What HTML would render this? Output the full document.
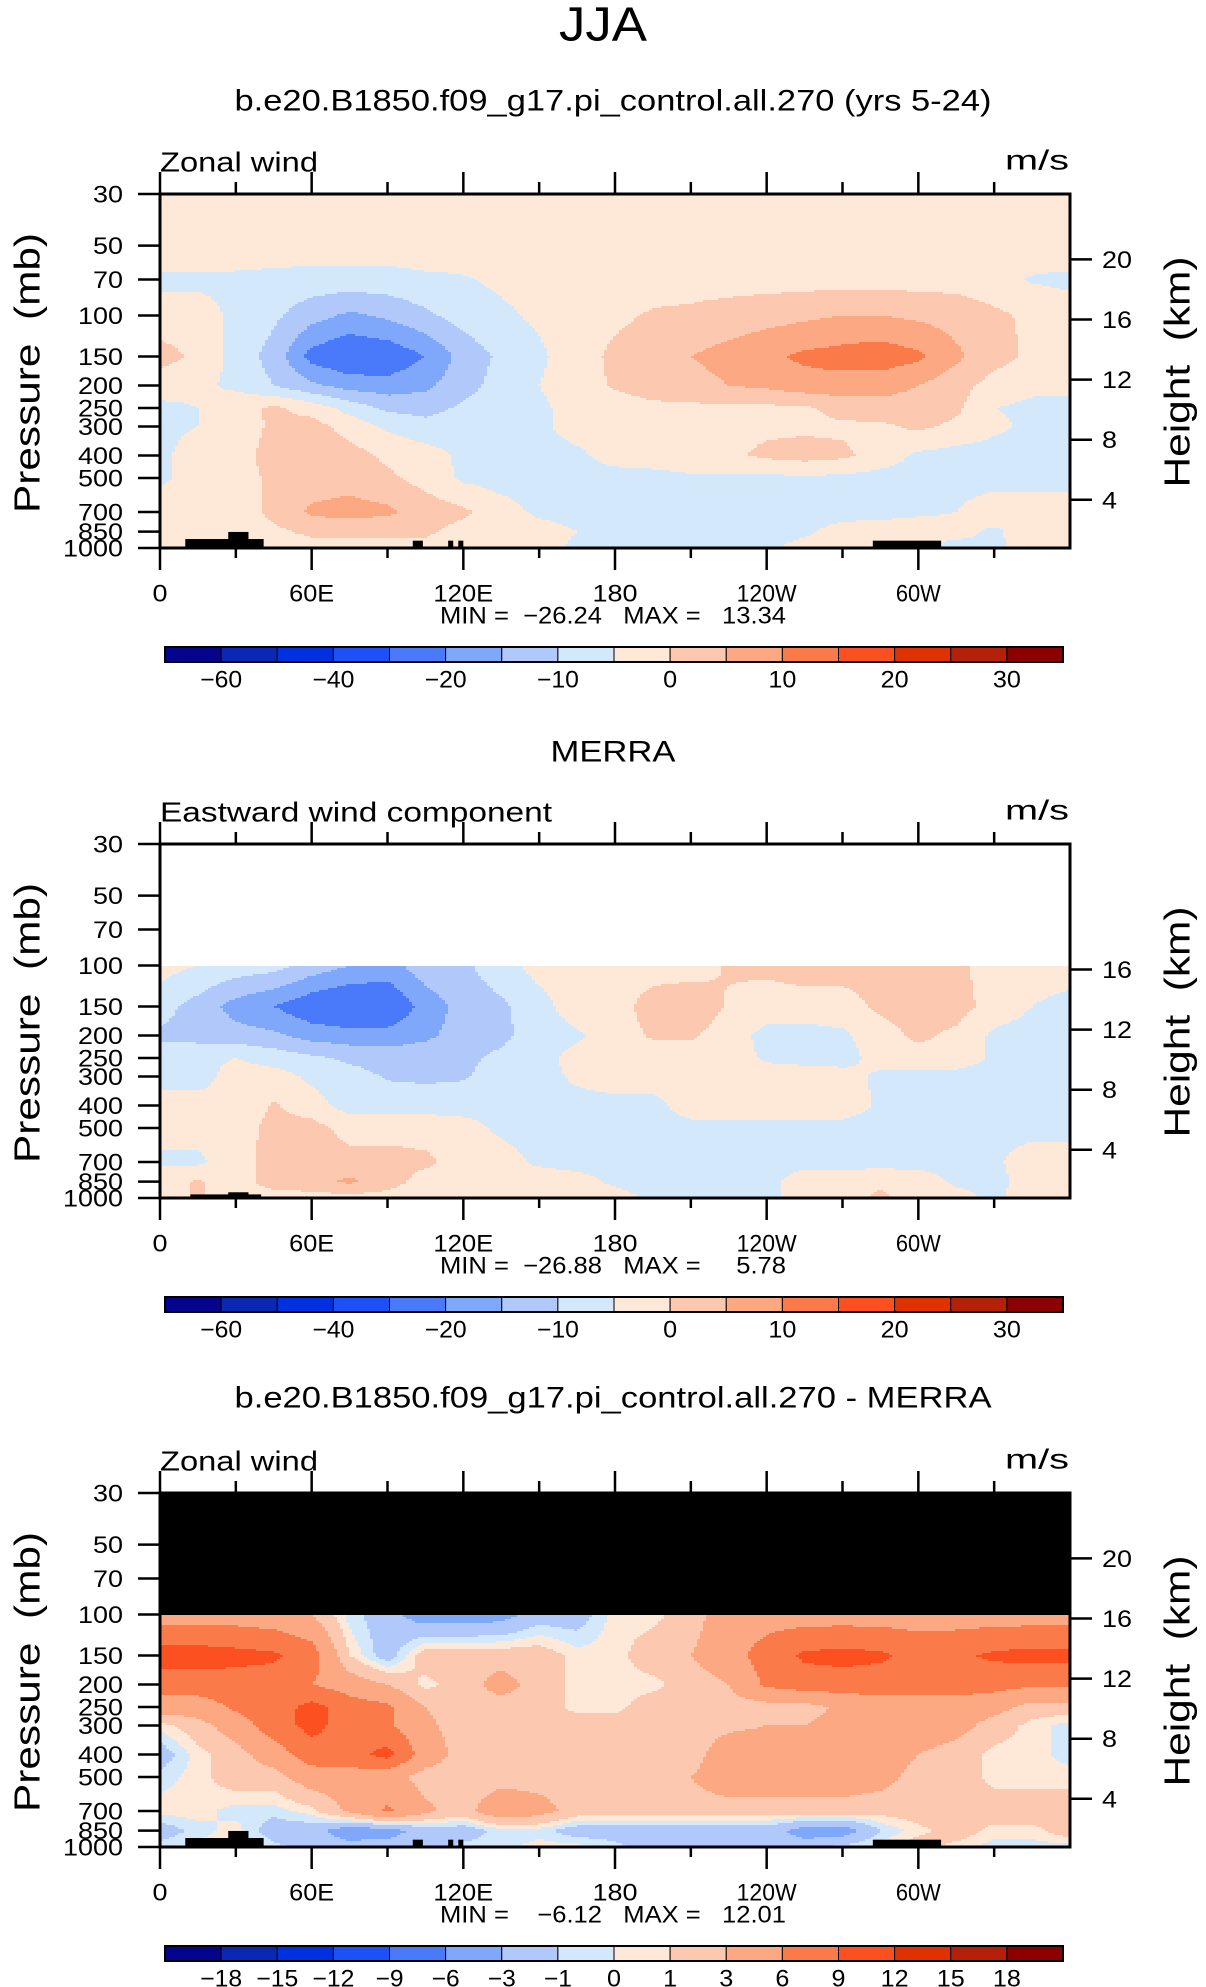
<!DOCTYPE html>
<html><head><meta charset="utf-8"><style>
html,body{margin:0;padding:0;background:#fff;}
svg{display:block;font-family:"Liberation Sans",sans-serif;}
text{white-space:pre;}
</style></head><body>
<svg id="fig" xmlns="http://www.w3.org/2000/svg" width="1206" height="1987" viewBox="0 0 1206 1987"></svg>
<script>
// ---- data ----
const lonCats = [0,15,30,45,60,75,90,105,120,135,150,165,180,195,210,225,240,255,270,285,300,315,330,345,360];
const pLevels = [30,50,70,100,150,200,250,300,400,500,700,850,1000];
const p1Rows = [
[-2,-2,-2,-2,-2,-2,-2,-2,-2,-2,-2,-2,-2,-2,-2,-2,-2,-2,-2,-2,-2,-2,-2,-2,-2],
[-2,-2,-2,-2,-2,-2,-2,-2,-2,-2,-2,-2,-2,-2,-2,-2,-2,-2,-2,-2,-2,-2,-2,-2,-2],
[-6,-6,-6,-6.5,-7,-7,-7,-6,-5.5,-4,-3,-2,-2,-2,-2,-2,-2,-2,-2,-2,-2,-2,-3,-5.5,-6],
[-3,-3,-6,-9,-13,-16,-14,-11,-8,-6,-4,-2,-1,0.5,1,2,3,4,5,5,4,3,1,-1,-3],
[2,-1,-7,-12,-22,-25,-24,-20,-13,-9,-6,-2,1,3,5,7,9,11,12,13,11,6,2,-1,-1],
[-3,-4,-6,-10,-14,-17,-18,-16,-12,-8,-5,-2,0.5,2,3,5,6,8,8,7,5,2,-2,-4,-4],
[-6,-5,-2,1,-2,-7,-11,-12,-9,-7,-6,-3,-2,-1,-1,-1,-1,-1,2,3,3,1,-5,-6,-6],
[-6,-5,-3,1,2,-2,-6,-8,-7,-6,-6,-3,-2,-1,-1,-1,-1,-1,-1,-1,1,-1,-4,-6,-6],
[-6,-3,-2,2,3,2,-1,-3,-6,-7,-7,-6,-3,-2,-1,-1,1,2,1,-2,-6,-7,-7,-7,-7],
[-6,-3,-2,1,2,3,1,-2,-6,-7,-7,-7,-7,-7,-6,-6,-6,-6,-6,-7,-7,-7,-7,-7,-7],
[-2,-2,-2,1,6,7,6,3,1,-3,-6,-7,-7,-7,-7,-7,-7,-7,-7,-7,-6,-5,-2,-2,-2],
[-2,-2,-2,-1,1,1,1,1,-2,-3,-3,-5,-7,-7,-7,-7,-7,-6,-3,-2,-2,-3,-6,-2,-2],
[-2,-2,-2,-2,-2,-2,-2,-2,-2,-3,-3,-6,-7,-7,-7,-7,-6,-3,-2,-2,-6,-7,-6,-3,-2]
];
const p2Rows = [
null,null,null,
[-3,-5,-7,-8,-12,-15,-17,-12,-11,-7,-3,-2,-2,-2,-2,0.5,1,2,2,2,2,1,-2,-2,-2],
[-8,-12,-17,-20,-24,-26,-25,-18,-13,-11,-7,-2,-2,2,3,-0.5,-2,-2,-2,1,2,2,-2,-5,-7],
[-11,-12,-13,-14,-17,-18,-18,-16,-13,-11,-8,-6,-2,0.5,0.5,-2,-7,-7,-6,-2,1,-1,-6,-7,-8],
[-7,-6,-5,-7,-9,-11,-12,-12,-11,-9,-7,-3,-2,-2,-2,-2,-6,-7,-7,-3,-2,-2,-6,-7,-7],
[-7,-7,-3,-3,-6,-8,-10.5,-11,-10.5,-8,-7,-4,-2,-2,-2,-2,-2,-2,-3,-6,-7,-7,-7,-7,-7],
[-3,-3,-4,0.5,-3,-7,-7,-7,-7,-7,-7,-7,-7,-7,-2,-2,-2,-2,-2,-6,-7,-7,-7,-7,-6],
[-3,-3,-3,2,2,-2,-2,-2,-3,-6,-7,-7,-7,-7,-7,-7,-7,-7,-7,-7,-7,-7,-7,-7,-7],
[-6,-6,-2,2,3,2,2,1,-2,-3,-6,-7,-7,-7,-7,-7,-7,-7,-7,-7,-7,-7,-6,-2,-2],
[-2,0.5,-2,2,3,6,2,-2,-2,-2,-2,-3,-6,-7,-7,-7,-7,-2,-2,-1,-2,-6,-7,-2,-2],
[-2,0.5,-2,-2,-2,-2,-2,-2,-2,-2,-2,-2,-3,-6,-7,-7,-7,-2,-2,1,-2,-3,-6,-2,-2]
];
const p3Rows = [
null,null,null,
[4.5,4.5,4.5,4,3,-0.5,-2,-4.5,-4.5,-4,-2,-2,0.5,0.5,2,4.5,4.5,4.5,4.5,4.5,4.5,4.5,4.5,4.5,4.5],
[10.5,10.5,10,9.5,7.5,1,-2,2,2,2,2,0.5,0.5,2,3,4.5,7.5,9.5,10,9.5,8,8.5,9.5,10,10],
[7.5,7.5,7.5,7.5,6,4.5,3,0.5,2,4,2,0.5,0.5,0.5,2,3,6.5,7.5,7.5,7.5,7.5,7.5,7,6.5,6.5],
[4.5,4.5,6.5,7.5,10,7.5,6.5,3,2,2,2,0.5,0.5,2,2,2,2,2,3.5,4.5,4.5,4.5,4,2,2],
[0.5,2,4.5,7.5,10,7.5,6.5,3.5,2,2,2,2,2,2,2,2.5,3,3,4,4.5,4.5,4,2,0.5,-0.5],
[-2,0.5,2,4.5,7.5,8,10,4.5,2,2,2,2,2,2,2,4.5,4.5,4.5,4.5,4.5,3,2,0.5,0.5,-0.5],
[-0.5,0.5,2,2,4.5,4.5,4,2,2,2,2,2,2,2,3,4.5,4.5,4.5,4.5,4,2,2,0.5,0.5,0.5],
[0.5,0.5,-0.5,-0.5,0.5,3.5,6.5,3.5,2,5,4,2,2,2,2,2,2,2,2,1.5,2,2,2,2,2],
[-2,-0.5,0.5,-2,-2,-4.5,-4,-2,-2,-0.5,-0.5,-2,-2,-2,-2,-2,-2,-4,-4.5,-1,0.5,2,0.5,0.5,2],
[-0.5,0.5,0.5,-0.5,-2,-2,-2,-2,-0.5,-0.5,0.5,0.5,-0.5,-2,-2,-2,-2,-2,-0.5,0.5,2,0.5,-0.5,-0.5,-0.5]
];
const windLevels = [-60,-50,-40,-30,-20,-15,-10,-5,0,5,10,15,20,25,30];
const diffLevels = [-18,-15,-12,-9,-6,-3,-1,0,1,3,6,9,12,15,18];
const windLabelIdx = [0,2,4,6,8,10,12,14];
const diffLabelIdx = [0,1,2,3,4,5,6,7,8,9,10,11,12,13,14];
const cbColors = ["#04048c","#0a28b4","#0030e0","#1e50f8","#4a7afa","#80a8fa","#b0c8fa","#d4e8fc","#fee8d8","#fdc8b0","#fca882","#fb7a4a","#fd5020","#e03200","#b42008","#8c0000"];
const topoLonA = [10,27,100,114,118,282];
const topoLonB = [41,35,104,116,120,309];
const topoTopP = [915,853,930,930,930,930];
const topo2LonA = [12,27,292];
const topo2LonB = [40,35,294];
const topo2TopP = [965,945,985];
const pTickLabels = ["30","50","70","100","150","200","250","300","400","500","700","850","1000"];
const lonTicks = [0,60,120,180,240,300];
const lonTickLabels = ["0","60E","120E","180","120W","60W"];
const kmTicks = [20,16,12,8,4];

// ---- geometry ----
const NS="http://www.w3.org/2000/svg";
const svg=document.getElementById('fig');
const PL=160, PR=1070, PH=354, LSPAN=Math.log(1000/30), HSCALE=6.72, PSURF=1125;
function xLon(lon){return PL+(lon/360)*(PR-PL);}
function yP(p,top){return top+PH*Math.log(p/30)/LSPAN;}
function mk(tag,attrs,parent){const e=document.createElementNS(NS,tag);for(const k in attrs)e.setAttribute(k,attrs[k]);(parent||svg).appendChild(e);return e;}
function txt(x,y,s,size,anchor,len,name,parent,extra){
  const e=mk('text',{x:x,y:y,'font-size':size,'text-anchor':anchor||'middle','dominant-baseline':'central',fill:'#000'},parent);
  if(len){e.setAttribute('textLength',len);e.setAttribute('lengthAdjust','spacingAndGlyphs');}
  if(extra)for(const k in extra)e.setAttribute(k,extra[k]);
  
  
  e.textContent=s;return e;
}
function interp(rows,lon,p){
  let k=0;while(k<pLevels.length-2&&p>pLevels[k+1])k++;
  const r0=rows[k],r1=rows[k+1];if(!r0||!r1)return null;
  const t=(Math.log(p)-Math.log(pLevels[k]))/(Math.log(pLevels[k+1])-Math.log(pLevels[k]));
  const step=lonCats[1]-lonCats[0];let j=Math.min(Math.floor(lon/step),lonCats.length-2);
  const s=(lon-lonCats[j])/step;
  const a=r0[j]*(1-s)+r0[j+1]*s, b=r1[j]*(1-s)+r1[j+1]*s;
  return a*(1-t)+b*t;
}
function colorIdx(v,levels){let n=0;for(const l of levels)if(v>=l)n++;return n;}

function drawPanel(cfg){
  const top=cfg.top;
  const g=mk('g',{});
  
  
  const fg=mk('g',{'shape-rendering':'crispEdges'},g);
  
  
  const dx=3,dy=2,nc=Math.ceil((PR-PL)/dx),nr=Math.ceil(PH/dy);
  for(let r=0;r<nr;r++){
    const yc=top+(r+0.5)*dy;const p=30*Math.exp((yc-top)/PH*LSPAN);
    let runStart=0,runCol=null;
    for(let c=0;c<=nc;c++){
      let col=null;
      if(c<nc){const lon=((c+0.5)*dx)/(PR-PL)*360;const v=interp(cfg.rows,Math.min(lon,360),p);
        col=v===null?cfg.miss:cbColors[colorIdx(v,cfg.levels)];}
      if(col!==runCol){
        if(runCol!==null){const x0=PL+runStart*dx,x1=Math.min(PL+c*dx,PR);
          const rc=mk('rect',{x:x0,y:top+r*dy,width:x1-x0,height:Math.min(dy,top+PH-(top+r*dy))+0.3,fill:runCol},fg);
          
          }
        runStart=c;runCol=col;
      }
    }
  }
  for(let i=0;i<cfg.tA.length;i++){
    const x0=xLon(cfg.tA[i]),x1=xLon(cfg.tB[i]),y0=yP(cfg.tP[i],top);
    const t=mk('rect',{x:x0,y:y0,width:x1-x0,height:top+PH-y0,fill:'#000'},g);
    
    
  }
  const fr=mk('rect',{x:PL,y:top,width:PR-PL,height:PH,fill:'none',stroke:'#000','stroke-width':3},g);
  
  
  for(let lon=0;lon<360;lon+=30){
    const major=lon%60===0,x=xLon(lon);
    const t1=mk('line',{x1:x,x2:x,y1:top,y2:top-(major?22:12),stroke:'#000','stroke-width':2.5},g);
    
    
    const t2=mk('line',{x1:x,x2:x,y1:top+PH,y2:top+PH+(major?22:10),stroke:'#000','stroke-width':2.5},g);
    
    
  }
  lonTicks.forEach((lon,i)=>{const s=lonTickLabels[i];txt(xLon(lon),top+PH+46,s,24,'middle',s.length*15,'x-tick-label',g);});
  pLevels.forEach((p,i)=>{const y=yP(p,top);
    const t=mk('line',{x1:PL-22,x2:PL,y1:y,y2:y,stroke:'#000','stroke-width':2.5},g);
    
    
    const s=pTickLabels[i];txt(123,y+1,s,24,'end',s.length*15,'y-tick-label',g);});
  cfg.km.forEach(km=>{const p=PSURF*Math.exp(-km/HSCALE);const y=yP(p,top);
    const t=mk('line',{x1:PR,x2:PR+22,y1:y,y2:y,stroke:'#000','stroke-width':2.5},g);
    
    
    const s=String(km);txt(1102,y+1,s,24,'start',s.length*15,'km-tick-label',g);});
  txt(27,top+179,'Pressure  (mb)',36,'middle',280,'y-axis-title',g,{transform:`rotate(-90 27 ${top+179})`});
  txt(1177,top+178,'Height  (km)',36,'middle',231,'right-axis-title',g,{transform:`rotate(-90 1177 ${top+178})`});
  txt(613,cfg.titleY,cfg.title,30,'middle',cfg.titleLen,'panel-title',g);
  txt(160,top-32,cfg.sub,28,'start',cfg.subLen,'variable-label',g);
  txt(1069,top-34,'m/s',28,'end',64,'units-label',g);
  txt(440,top+PH+68,cfg.minmax,24,'start',346,'min-max-label',g);
  const cbY=top+PH+99,cbX0=165,cbW=(1063-165)/16;
  cbColors.forEach((c,i)=>{const r=mk('rect',{x:cbX0+i*cbW,y:cbY,width:cbW,height:15,fill:c,stroke:'#000','stroke-width':1},g);
    
    });
  const cbo=mk('rect',{x:cbX0,y:cbY,width:1063-165,height:15,fill:'none',stroke:'#000','stroke-width':2},g);
  
  
  cfg.labIdx.forEach(i=>{const v=cfg.levels[i];const s=v<0?'\u2212'+Math.abs(v):String(v);
    txt(cbX0+(i+1)*cbW,cbY+33,s,24,'middle',s.length*14,'colorbar-label',g);});
}

txt(603,25,'JJA',48,'middle',88,'season-title',svg,{'font-weight':'300'});
drawPanel({name:'model-panel',top:194,rows:p1Rows,levels:windLevels,miss:'#fff',tA:topoLonA,tB:topoLonB,tP:topoTopP,km:kmTicks,
  title:'b.e20.B1850.f09_g17.pi_control.all.270 (yrs 5-24)',titleY:101,titleLen:757,sub:'Zonal wind',subLen:158,
  minmax:'MIN =  \u221226.24   MAX =   13.34',labIdx:windLabelIdx});
drawPanel({name:'merra-panel',top:844,rows:p2Rows,levels:windLevels,miss:'#fff',tA:topo2LonA,tB:topo2LonB,tP:topo2TopP,km:[16,12,8,4],
  title:'MERRA',titleY:752,titleLen:125,sub:'Eastward wind component',subLen:392,
  minmax:'MIN =  \u221226.88   MAX =     5.78',labIdx:windLabelIdx});
drawPanel({name:'difference-panel',top:1493,rows:p3Rows,levels:diffLevels,miss:'#000',tA:topoLonA,tB:topoLonB,tP:topoTopP,km:kmTicks,
  title:'b.e20.B1850.f09_g17.pi_control.all.270 - MERRA',titleY:1398,titleLen:757,sub:'Zonal wind',subLen:158,
  minmax:'MIN =    \u22126.12   MAX =   12.01',labIdx:diffLabelIdx});
</script>
</body></html>
